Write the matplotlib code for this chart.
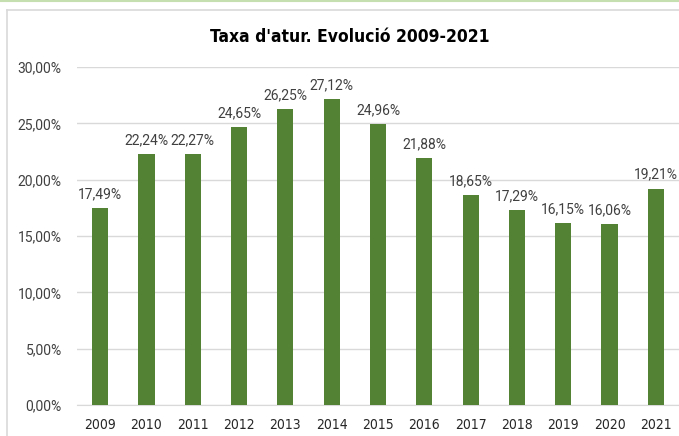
import matplotlib
matplotlib.use("Agg")
import matplotlib.pyplot as plt
from matplotlib.lines import Line2D

years = ["2009", "2010", "2011", "2012", "2013", "2014", "2015", "2016",
         "2017", "2018", "2019", "2020", "2021"]
rates = [17.49, 22.24, 22.27, 24.65, 26.25, 27.12, 24.96, 21.88,
         18.65, 17.29, 16.15, 16.06, 19.21]
yticks = [0, 5, 10, 15, 20, 25, 30]
title = "Taxa d'atur. Evolució 2009-2021"

W, H = 679, 436
fig = plt.figure(figsize=(W / 100, H / 100), dpi=100)

def fx(px):
    return px / W

def fy(py):
    return 1 - py / H

# outer decorations
fig.add_artist(Line2D([0, 1], [fy(1), fy(1)], color="#c5dfb0", lw=1.5, transform=fig.transFigure))
fig.add_artist(Line2D([fx(7), fx(7)], [0, fy(10)], color="#d9d9d9", lw=1.2, transform=fig.transFigure))
fig.add_artist(Line2D([fx(7), 1], [fy(10), fy(10)], color="#d9d9d9", lw=1.2, transform=fig.transFigure))

ax = fig.add_axes([fx(77), fy(405), fx(679) - fx(77), fy(67) - fy(405)])
x = list(range(len(years)))
ax.bar(x, rates, width=0.35, color="#548235", zorder=3)
ax.set_xlim(-0.5, len(years) - 0.5)
ax.set_ylim(0, 30)
ax.set_yticks(yticks)
ax.set_yticklabels([f"{v:.2f}".replace(".", ",") + "%" for v in yticks],
                   fontsize=10, color="#404040", family="Roboto")
ax.set_xticks(x)
ax.set_xticklabels(years, fontsize=10, color="#262626", family="DejaVu Sans", fontstretch="condensed")
ax.tick_params(axis="both", length=0)
ax.tick_params(axis="y", pad=11)
ax.tick_params(axis="x", pad=9)
ax.grid(axis="y", color="#d9d9d9", lw=1, zorder=0)
for s in ["top", "right", "left"]:
    ax.spines[s].set_visible(False)
ax.spines["bottom"].set_color("#d9d9d9")

for xi, v in zip(x, rates):
    ax.annotate(f"{v:.2f}".replace(".", ",") + "%", (xi, v), xytext=(0, 5),
                textcoords="offset points", ha="center", va="bottom",
                fontsize=10, color="#404040", family="Roboto")

fig.text(fx(350), fy(37), title, ha="center", va="center",
         fontsize=12.5, fontweight="bold", color="#000000",
         family="DejaVu Sans", fontstretch="condensed")

fig.savefig("out.png", dpi=100)
